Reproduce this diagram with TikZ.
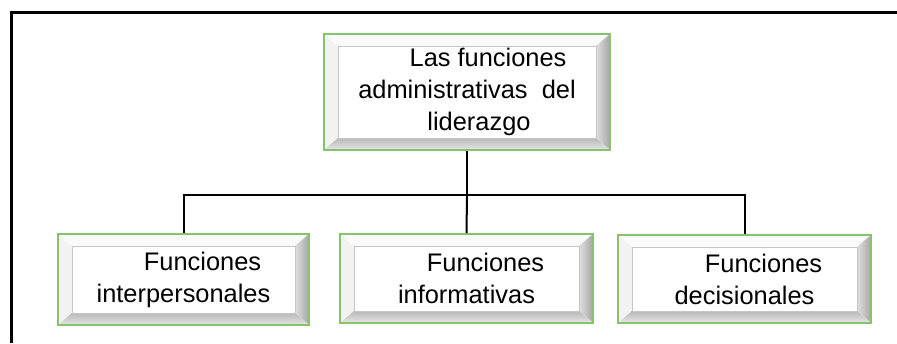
\documentclass[tikz,border=0pt]{standalone}
\usepackage{fontspec}
\setmainfont{Liberation Sans}
\definecolor{boxgreen}{RGB}{135,195,105}

\begin{document}
\begin{tikzpicture}[x=0.5pt, y=-0.5pt,
    bevelbox/.style={draw=boxgreen, line width=0.9pt, fill=gray!10, inner sep=0pt,
      align=center, font=\fontsize{12.7}{16}\selectfont,
      path picture={
        \fill[gray!4] (path picture bounding box.north west) -- (path picture bounding box.north east)
          -- ([shift={(-7pt,-6pt)}]path picture bounding box.north east)
          -- ([shift={(7pt,-6pt)}]path picture bounding box.north west) -- cycle;
        \fill[left color=gray!25, right color=gray!70] (path picture bounding box.north east)
          -- ([shift={(-7pt,-6pt)}]path picture bounding box.north east)
          -- ([shift={(-7pt,6pt)}]path picture bounding box.south east)
          -- (path picture bounding box.south east) -- cycle;
        \fill[top color=gray!55, bottom color=gray!20] (path picture bounding box.south east)
          -- ([shift={(-7pt,6pt)}]path picture bounding box.south east)
          -- ([shift={(7pt,6pt)}]path picture bounding box.south west)
          -- (path picture bounding box.south west) -- cycle;
        \fill[white, draw=gray!45, line width=0.4pt] ([shift={(7pt,6pt)}]path picture bounding box.south west)
          rectangle ([shift={(-7pt,-6pt)}]path picture bounding box.north east);
      }},
    link/.style={line width=1pt}]
    \useasboundingbox (0,0) rectangle (897,343);
    \draw[line width=1.5pt] (897,12) -- (11,12) -- (11,343);
    \node[bevelbox, minimum width=143pt, minimum height=58pt] (lead) at (467,92)
        {\hspace*{21pt}Las funciones\\administrativas\ \ del\\\hspace*{12pt}liderazgo};
    \node[bevelbox, minimum width=125.5pt, minimum height=45.5pt] (inter) at (183.5,279.5)
        {\hspace*{19pt}Funciones\\interpersonales};
    \node[bevelbox, minimum width=126.5pt, minimum height=44.5pt] (info) at (466.5,278.5)
        {\hspace*{19pt}Funciones\\informativas};
    \node[bevelbox, minimum width=126.5pt, minimum height=44pt] (deci) at (744.5,279)
        {\hspace*{19pt}Funciones\\decisionales};
    \coordinate (hub) at (467,195);
    \draw[link] (lead.south) -- (hub);
    \draw[link] (inter.north) |- (hub) -| (deci.north);
    \draw[link] (hub) -- (info.north);
\end{tikzpicture}
\end{document}
